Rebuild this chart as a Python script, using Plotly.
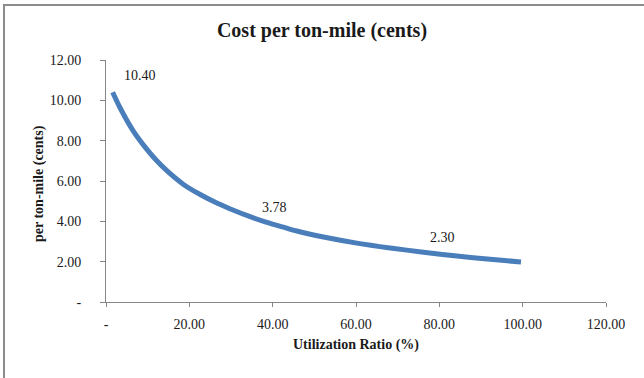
import plotly.graph_objects as go

# Data
util_ratio = [1.6, 3.4, 6.6, 9.0, 11.8, 14.6, 18.6, 22.6, 26.6, 30.6, 34.6, 38.6,
              42.6, 45.8, 52.2, 60.2, 68.2, 76.2, 84.2, 92.2, 99.6]
cost_cents = [10.40, 9.62, 8.46, 7.78, 7.09, 6.51, 5.83, 5.33, 4.91, 4.55, 4.23, 3.95,
              3.71, 3.52, 3.22, 2.92, 2.68, 2.47, 2.28, 2.12, 1.98]

label_x = [1.6, 41.0, 80.5]
label_y = [10.40, 3.78, 2.30]
label_text = ["10.40", "3.78", "2.30"]
label_shift = [(27, 17), (-2, 18), (1, 18)]

x_ticks = [0, 20, 40, 60, 80, 100, 120]
x_ticktext = ["-", "20.00", "40.00", "60.00", "80.00", "100.00", "120.00"]
y_ticks = [0, 2, 4, 6, 8, 10, 12]
y_ticktext = ["-", "2.00", "4.00", "6.00", "8.00", "10.00", "12.00"]

W, H = 644, 378
ML, MR, MT, MB = 106, 38, 60, 76
PW, PH = W - ML - MR, H - MT - MB

FONT = "Liberation Serif"
TXT = "#1a1a1a"
AX = "#868686"

fig = go.Figure()
fig.add_trace(go.Scatter(
    x=util_ratio, y=cost_cents, mode="lines",
    line=dict(color="#4A7EBB", width=5, shape="spline", smoothing=0.8),
    hoverinfo="skip", showlegend=False,
))

annotations = []
for lx, ly, lt, (dx, dy) in zip(label_x, label_y, label_text, label_shift):
    annotations.append(dict(
        x=lx, y=ly, xref="x", yref="y", text=lt, showarrow=False,
        xshift=dx, yshift=dy, font=dict(family=FONT, size=14, color=TXT),
    ))

# axis titles
annotations.append(dict(
    xref="paper", yref="paper", x=0, y=0.5, xshift=-(ML - 39), yshift=-3,
    text="<b>per ton-mile (cents)</b>", textangle=-90, showarrow=False,
    xanchor="center", yanchor="middle", font=dict(family=FONT, size=14, color=TXT),
))
annotations.append(dict(
    xref="paper", yref="paper", x=0.5, y=0, yshift=-43,
    text="<b>Utilization Ratio (%)</b>", showarrow=False,
    xanchor="center", yanchor="middle", font=dict(family=FONT, size=14, color=TXT),
))

# chart frame (left and top edges visible)
shapes = [dict(
    type="rect", xref="paper", yref="paper", layer="above",
    x0=(4 - ML) / PW, x1=(W + 10 - ML) / PW,
    y0=(H - MB - (H + 10)) / PH, y1=(H - MB - 5) / PH,
    line=dict(color="#8c8c8c", width=2), fillcolor="rgba(0,0,0,0)",
)]

fig.update_layout(
    width=W, height=H,
    margin=dict(l=ML, r=MR, t=MT, b=MB, pad=0),
    paper_bgcolor="white", plot_bgcolor="white",
    title=dict(
        text="<b>Cost per ton-mile (cents)</b>", x=0.5, xref="container", xanchor="center",
        y=1 - 30 / H, yref="container", yanchor="middle",
        font=dict(family=FONT, size=20, color=TXT),
    ),
    xaxis=dict(
        range=[0, 120], tickvals=x_ticks, ticktext=x_ticktext,
        showgrid=False, zeroline=False, showline=True, linecolor=AX, linewidth=1,
        ticks="outside", ticklen=4, tickcolor=AX, ticklabelstandoff=5,
        tickfont=dict(family=FONT, size=14, color=TXT),
    ),
    yaxis=dict(
        range=[0, 12], tickvals=y_ticks, ticktext=y_ticktext,
        showgrid=False, zeroline=False, showline=True, linecolor=AX, linewidth=1,
        ticks="outside", ticklen=5, tickcolor=AX, ticklabelstandoff=16,
        tickfont=dict(family=FONT, size=14, color=TXT),
    ),
    annotations=annotations,
    shapes=shapes,
)

fig.write_html("out.html")
